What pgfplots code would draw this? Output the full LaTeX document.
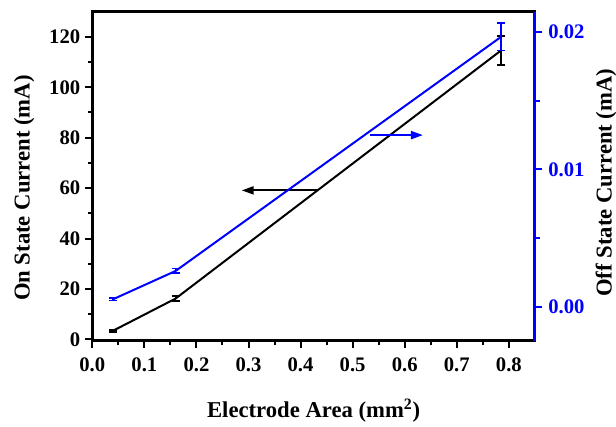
\documentclass[border=0pt]{standalone}
\usepackage{fontspec}
\setmainfont{Liberation Serif}
\usepackage{pgfplots}
\pgfplotsset{compat=1.18}
\usetikzlibrary{arrows.meta}

\definecolor{offblue}{RGB}{0,0,255}
\newcommand{\tickfont}{\fontsize{15.5}{18}\selectfont\bfseries}
\newcommand{\lblfont}{\fontsize{17}{20}\selectfont\bfseries}

\pgfplotsset{
  myaxis/.style={
    scale only axis,
    width=332pt, height=246.8pt,
    xmin=0, xmax=0.85,
    tick align=outside,
    major tick length=5.5pt, minor tick length=3.5pt,
    every tick/.style={line width=1.5pt},
    every minor tick/.style={line width=1.5pt},
    tick label style={font=\tickfont},
    /pgf/number format/assume math mode=true,
  },
}

\begin{document}
\begin{tikzpicture}
\begin{axis}[myaxis,
  axis line style={line width=2.2pt},
  ymin=-0.5, ymax=130,
  xtick={0,0.1,...,0.8}, minor x tick num=1,
  ytick={0,20,...,120}, minor y tick num=1,
  tick pos=left,
  xticklabel style={yshift=-4pt, /pgf/number format/fixed, /pgf/number format/fixed zerofill, /pgf/number format/precision=1},
  xlabel={Electrode Area (mm\textsuperscript{2})},
  ylabel={On State Current (mA)},
  every axis x label/.style={at={(axis description cs:0.5,-0.2128)}, anchor=center, font=\lblfont},
  every axis y label/.style={at={(axis description cs:-0.1536,0.4635)}, anchor=center, rotate=90, font=\lblfont},
]
\addplot[black, line width=1.5pt,
  error bars/.cd, y dir=both, y explicit,
  error bar style={line width=1.2pt, black},
  error mark options={rotate=90, mark size=3pt, line width=1.2pt, black}]
  coordinates {
    (0.04,3.45)  +- (0,0.4)
    (0.16,16.2)  +- (0,0.9)
    (0.785,114.6) +- (0,5.8)
  };
\draw[black, line width=1.5pt, -{Triangle[length=9pt,width=6pt]}]
  (axis cs:0.434,59.1) -- (axis cs:0.287,59.1);
\coordinate (bl) at (rel axis cs:0,0);
\end{axis}

\begin{axis}[myaxis,
  axis y line*=right, axis x line=none,
  axis line style={line width=2.2pt, offblue},
  ymin=-0.00248, ymax=0.0215,
  ytick={0,0.01,0.02}, minor y tick num=1,
  scaled y ticks=false,
  yticklabel style={offblue, xshift=1pt, /pgf/number format/fixed, /pgf/number format/fixed zerofill, /pgf/number format/precision=2},
  every tick/.style={line width=1.5pt, offblue},
  every minor tick/.style={line width=1.5pt, offblue},
  ylabel={Off State Current (mA)},
  every axis y label/.style={at={(axis description cs:1.1604,0.48)}, anchor=center, rotate=90, font=\lblfont},
]
\addplot[offblue, line width=1.5pt,
  error bars/.cd, y dir=both, y explicit,
  error bar style={line width=1.2pt, offblue},
  error mark options={rotate=90, mark size=3pt, line width=1.2pt, offblue}]
  coordinates {
    (0.04,0.00054)  +- (0,0.0001)
    (0.16,0.0026)   +- (0,0.00017)
    (0.785,0.01966) +- (0,0.001)
  };
\draw[offblue, line width=1.5pt, -{Triangle[length=9pt,width=6pt]}]
  (axis cs:0.534,0.0125) -- (axis cs:0.635,0.0125);
\end{axis}

\pgfresetboundingbox
\path (bl) ++(-69.2pt,-64pt) rectangle ++(462pt,319.5pt);
\end{tikzpicture}
\end{document}
